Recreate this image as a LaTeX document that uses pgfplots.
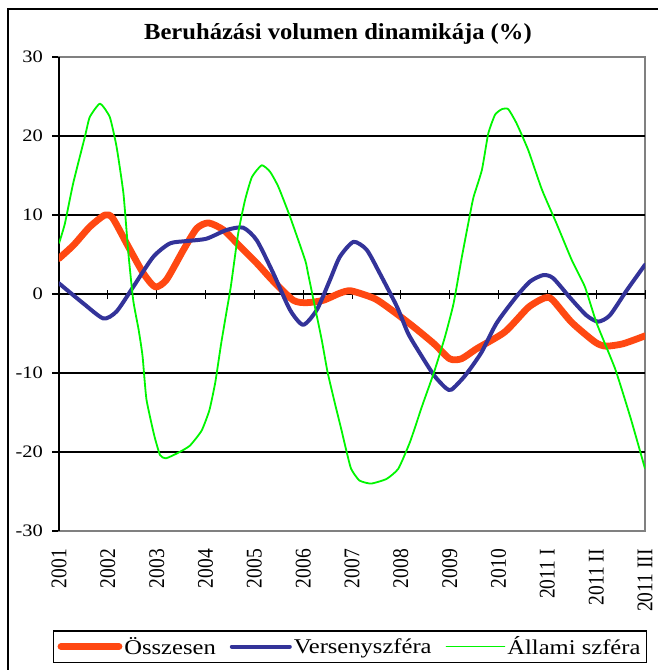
\documentclass[border=0pt]{standalone}
\usepackage{graphicx}
\usepackage{pgfplots}
\pgfplotsset{compat=1.18}
\usepackage{fontspec}
\setmainfont{Liberation Serif}
\definecolor{cOr}{RGB}{255,72,18}
\definecolor{cBl}{RGB}{51,51,153}
\definecolor{cGr}{RGB}{0,245,0}
\definecolor{cGray}{RGB}{128,128,128}
\newcommand{\hs}[1]{\scalebox{1.17}[1]{#1}}
\newcommand{\vs}[1]{\scalebox{1}[1.15]{#1}}
\begin{document}
\begin{tikzpicture}
% frame, grid, labels
\begin{axis}[
 at={(0pt,0pt)}, anchor=south west, scale only axis, width=586pt, height=474pt,
 xmin=0, xmax=12, ymin=-30, ymax=30,
 axis line style={draw=cGray, line width=2pt},
 xtick={0,...,12},
 xticklabels={\vs{2001},\vs{2002},\vs{2003},\vs{2004},\vs{2005},\vs{2006},\vs{2007},\vs{2008},\vs{2009},\vs{2010},\vs{2011 I},\vs{2011 II},\vs{2011 III}},
 xticklabel style={rotate=90, anchor=east, font=\fontsize{19.5}{20}\selectfont, inner sep=0pt, xshift=-11pt},
 x tick style={draw=none},
 ytick={-30,-20,...,30},
 yticklabels={\hs{-30},\hs{-20},\hs{-10},\hs{0},\hs{10},\hs{20},\hs{30}},
 ytick pos=left, tick align=outside, major tick length=7pt,
 y tick style={black, line width=1.2pt},
 yticklabel style={font=\fontsize{17.5}{18}\selectfont, anchor=east, inner sep=0pt, xshift=-9pt},
 extra y ticks={-20,-10,0,10,20}, extra y tick labels={},
 extra y tick style={grid=major},
 major grid style={black, line width=1.2pt},
 title={\scalebox{1.07}[1]{Beruházási volumen dinamikája (\%)}},
 title style={at={(0.476,1)}, anchor=center, yshift=17pt, font=\fontsize{23}{24}\selectfont\bfseries},
]
\end{axis}
% zero line and left axis
\begin{axis}[
 at={(0pt,0pt)}, anchor=south west, scale only axis, width=586pt, height=474pt,
 xmin=0, xmax=12, ymin=-30, ymax=30,
 axis x line=middle, axis y line=left,
 axis line style={black, line width=1.3pt, -},
 xtick={0,...,12}, xticklabels={}, ytick=\empty,
 tick align=center, major tick length=9pt,
 x tick style={black, line width=1pt},
]
\end{axis}
% data
\begin{axis}[
 at={(0pt,0pt)}, anchor=south west, scale only axis, width=586pt, height=474pt,
 xmin=0, xmax=12, ymin=-30, ymax=30, hide axis,
 legend columns=3,
 legend style={at={(0.4966,-0.2437)}, anchor=center, draw=black, line width=1.5pt,
   font=\fontsize{21}{22}\selectfont, inner xsep=4pt, inner ysep=4pt,
   /tikz/every even column/.append style={column sep=12pt}},
 legend image code/.code={\draw[#1, line cap=round] (0pt,0pt) -- (58pt,0pt);},
]
\addplot[cOr, line width=6.8pt, smooth, tension=0.4, line cap=round, line join=round] coordinates {
(0,4.5) (0.3,6.2) (0.63,8.5) (0.94,10.0) (1.1,9.6) (1.42,6.0) (1.73,2.6) (1.97,0.9) (2.2,1.8) (2.55,5.6) (2.82,8.3) (3.06,9.0) (3.37,8.1) (3.71,6.0) (4.05,3.9) (4.39,1.6) (4.8,-0.8) (5.07,-1.1) (5.41,-0.8) (5.75,0.1) (5.98,0.4) (6.47,-0.6) (6.87,-2.3) (7.27,-4.2) (7.68,-6.3) (8.0,-8.2) (8.24,-8.2) (8.56,-6.9) (9.13,-4.8) (9.61,-1.7) (9.94,-0.5) (10.1,-0.7) (10.5,-3.6) (10.98,-6.1) (11.2,-6.6) (11.55,-6.3) (12,-5.3)
};
\addlegendentry{\hs{Összesen}}
\addplot[cBl, line width=4pt, smooth, tension=0.4, line cap=round, line join=round] coordinates {
(0,1.35) (0.5,-1.2) (0.91,-3.1) (1.18,-2.2) (1.52,0.9) (1.93,4.7) (2.27,6.4) (2.61,6.7) (3.02,7.0) (3.43,8.1) (3.77,8.4) (4.05,6.8) (4.39,2.6) (4.73,-2.0) (5.0,-3.9) (5.28,-2.0) (5.55,1.8) (5.75,4.7) (6.03,6.6) (6.3,5.6) (6.57,2.6) (6.92,-1.6) (7.15,-5.0) (7.4,-7.6) (7.68,-10.3) (7.92,-11.9) (8.04,-12.1) (8.32,-10.3) (8.65,-7.4) (8.96,-3.7) (9.37,-0.3) (9.65,1.6) (9.92,2.4) (10.12,2.0) (10.47,-0.5) (10.8,-2.7) (11.04,-3.5) (11.28,-2.7) (11.63,0.5) (12,3.7)
};
\addlegendentry{\hs{Versenyszféra}}
\addplot[cGr, line width=1.8pt, smooth, tension=0.3, line join=round] coordinates {
(0,6.4) (0.12,8.9) (0.29,14.0) (0.53,19.9) (0.63,22.4) (0.84,24.1) (1.04,22.4) (1.18,18.6) (1.32,12.7) (1.42,5.2) (1.52,-0.8) (1.63,-4.5) (1.71,-7.8) (1.79,-13.3) (1.95,-17.9) (2.07,-20.4) (2.19,-20.8) (2.44,-20.1) (2.68,-19.2) (2.92,-17.3) (3.08,-14.7) (3.2,-11.2) (3.32,-6.3) (3.44,-1.9) (3.52,1.0) (3.67,7.7) (3.81,11.9) (3.95,14.8) (4.15,16.3) (4.32,15.5) (4.49,13.6) (4.73,9.8) (5.04,4.3) (5.1,2.6) (5.24,-1.6) (5.38,-5.8) (5.5,-9.9) (5.66,-14.1) (5.78,-17.1) (5.86,-19.2) (5.98,-22.1) (6.15,-23.6) (6.39,-24.0) (6.71,-23.4) (6.95,-22.1) (7.19,-18.7) (7.44,-14.1) (7.68,-9.9) (7.9,-5.5) (8.08,-1.2) (8.25,4.7) (8.42,10.2) (8.49,12.3) (8.66,15.7) (8.79,20.3) (8.93,22.7) (9.07,23.4) (9.2,23.4) (9.37,21.6) (9.61,18.2) (9.89,13.2) (10.19,8.9) (10.5,4.3) (10.77,0.9) (11.01,-3.7) (11.39,-9.5) (11.71,-15.8) (12,-22.1)
};
\addlegendentry{\hs{Állami szféra}}
\end{axis}
\draw[black, line width=2.5pt] (-51pt,-300pt) rectangle (700pt,522pt);
\pgfresetboundingbox
\path[use as bounding box] (-59pt,-139pt) rectangle (599pt,531pt);
\end{tikzpicture}
\end{document}
